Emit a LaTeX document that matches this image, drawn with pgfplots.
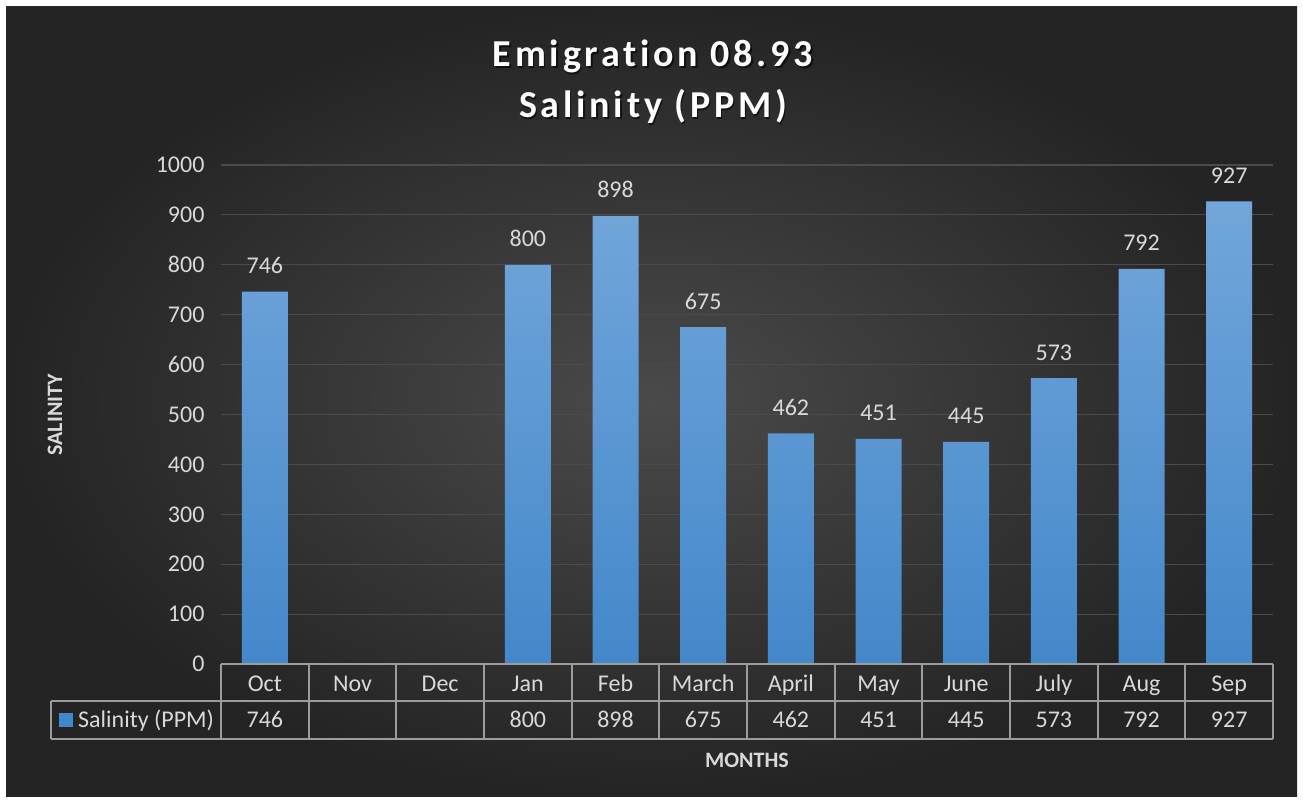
\documentclass[border=0pt]{standalone}
\usepackage{fontspec}
\setmainfont{Carlito}
\usepackage{pgfplots}
\pgfplotsset{compat=1.18}
\definecolor{bgin}{HTML}{4A4A4A}
\definecolor{bgout}{HTML}{242424}
\definecolor{gridc}{HTML}{4B4B4B}
\definecolor{txt}{HTML}{D9D9D9}
\definecolor{tline}{HTML}{9C9C9C}
\definecolor{bartop}{HTML}{72A6DA}
\definecolor{barbot}{HTML}{4388CA}
\newcommand\fs[1]{\fontsize{#1}{#1}\selectfont}
\begin{document}
\begin{tikzpicture}[x=1pt,y=1pt]
% page and dark chart area
\fill[white] (0,0) rectangle (1303,801);
\shade[inner color=bgin, outer color=bgout] (6,5) rectangle (1297,794);

\begin{axis}[
  at={(221pt,137pt)}, anchor=south west,
  scale only axis, width=1052pt, height=499pt,
  xmin=-0.5, xmax=11.5, ymin=0, ymax=1000,
  ybar, bar width=46pt,
  axis line style={draw=none},
  tick style={draw=none},
  ytick={0,100,...,1000},
  ymajorgrids, grid style={gridc, line width=1.2pt},
  xtick={0,...,11},
  xticklabels={Oct,Nov,Dec,Jan,Feb,March,April,May,June,July,Aug,Sep},
  xticklabel style={anchor=base, yshift=-23pt, text=txt, font=\fs{24}},
  yticklabel style={xshift=-13pt, text=txt, font=\fs{24}},
  /pgf/number format/1000 sep={},
  /pgf/number format/assume math mode=true,
  clip=false,
]
\addplot[draw=none, top color=bartop, bottom color=barbot,
  nodes near coords,
  every node near coord/.append style={anchor=base, yshift=18pt, text=txt, font=\fs{24}}]
  coordinates {(0,746) (3,800) (4,898) (5,675) (6,462) (7,451) (8,445) (9,573) (10,792) (11,927)};
\end{axis}

% data table under the axis
\foreach \k in {0,...,12}
  \draw[tline, line width=2pt] ({221+87.667*\k},137) -- ({221+87.667*\k},62);
\draw[tline, line width=2pt] (221,137) -- (1273,137);
\draw[tline, line width=2pt] (51,100) -- (1273,100);
\draw[tline, line width=2pt] (51,62) -- (1273,62);
\draw[tline, line width=2pt] (51,100) -- (51,62);
\fill[barbot] (59,74) rectangle (73,88);
\node[anchor=base west, inner sep=0, text=txt, font=\fs{24}] at (78,74) {Salinity (PPM)};
\foreach \k/\v in {0/746,3/800,4/898,5/675,6/462,7/451,8/445,9/573,10/792,11/927}
  \node[anchor=base, inner sep=0, text=txt, font=\fs{24}] at ({221+87.667*(\k+0.5)},74) {\v};

% titles
\foreach \dx/\dy/\c/\o in {1.5/-1.5/black/0.6, 0/0/white/1}{
  \node[anchor=base, inner sep=0, text=\c, opacity=\o, font=\fs{38}\bfseries\addfontfeature{LetterSpace=10,Ligatures=NoCommon}] at (653+\dx,734+\dy) {Emigration 08.93};
  \node[anchor=base, inner sep=0, text=\c, opacity=\o, font=\fs{38}\bfseries\addfontfeature{LetterSpace=10,Ligatures=NoCommon}] at (653+\dx,683+\dy) {Salinity (PPM)};
}
\node[rotate=90, text=txt, font=\fs{22}\bfseries] at (55,386) {SALINITY};
\node[text=txt, font=\fs{22}\bfseries] at (747,41) {MONTHS};
\end{tikzpicture}
\end{document}
